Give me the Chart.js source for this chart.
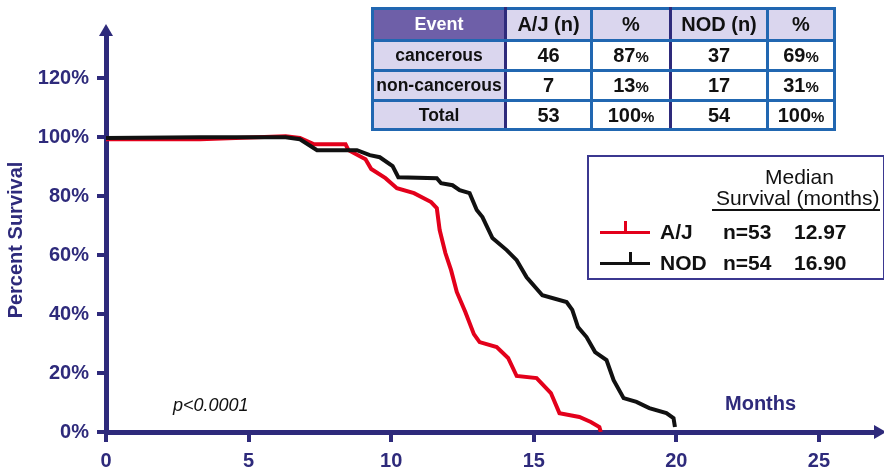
<!DOCTYPE html>
<html lang="en">
<head>
<meta charset="UTF-8">
<title>Survival</title>
<script src="https://cdn.jsdelivr.net/npm/chart.js"></script>
<style>
  body { margin: 0; background: #fff; font-family: "Liberation Sans", Arial, sans-serif; }
  #wrap { position: relative; width: 884px; height: 469px; overflow: hidden; }
  #chart { position: absolute; left: 0; top: 0; }
  .abs { position: absolute; white-space: nowrap; }
  #events { position: absolute; left: 371px; top: 7px; border-collapse: collapse; table-layout: fixed;
            font-weight: bold; font-size: 20px; color: #111; border: 3px solid #2e2a7b; }
  #events td { padding: 0; text-align: center; border: 3px solid #2167b1; background: #fff; }
  #events td.lab { background: #dad6ee; }
  #events td.first { font-size: 17.5px; }
  #events td.ev { background: #6e5fa8; color: #fff; font-size: 18px; }
  #events td.nv { border-right-color: #2e2a7b; }
  #events small { font-size: 15px; }
  #legendBox { position: absolute; left: 587px; top: 155px; width: 294px; height: 121px; border: 2px solid #3b3890; }
  .lg { font-size: 21px; font-weight: bold; color: #111; transform: translateY(-50%); }
</style>
</head>
<body>
<div id="wrap">
  <canvas id="chart" width="884" height="469"></canvas>
  <table id="events"></table>
  <div id="legendBox"></div>
  <div class="abs" style="left:725px;top:392px;font-size:20px;font-weight:bold;color:#2e2a7b">Months</div>
  <div class="abs" style="left:173px;top:395px;font-size:18px;font-style:italic;color:#111">p&lt;0.0001</div>
</div>
<script>
const NAVY = '#2e2a7b'

// Kaplan-Meier curves (months, percent surviving)
const ajMonths = [0, 3.3, 6.3, 6.8, 7.3, 8.4, 8.5, 9.1, 9.3, 9.8, 10.2, 10.8, 11.4, 11.6, 11.7, 11.9, 12.1, 12.3, 12.6, 12.9, 13.1, 13.7, 14.1, 14.4, 15.1, 15.6, 15.9, 16.6, 17.0, 17.3, 17.35]
const ajSurvival = [99.3, 99.3, 100.3, 99.7, 97.6, 97.6, 95.6, 92.5, 89.2, 86.1, 82.7, 81.0, 78.0, 75.9, 68.5, 60.7, 54.9, 47.5, 40.7, 33.2, 30.5, 28.8, 25.1, 19.0, 18.3, 13.2, 6.4, 5.1, 3.4, 1.7, 0]
const nodMonths = [0, 3.3, 6.3, 6.8, 7.4, 8.8, 9.25, 9.6, 10.05, 10.25, 11.6, 11.75, 12.15, 12.4, 12.75, 13.0, 13.2, 13.55, 14.05, 14.4, 14.75, 15.3, 16.15, 16.35, 16.55, 16.85, 17.15, 17.55, 17.8, 18.15, 18.6, 19.05, 19.65, 19.9, 19.95]
const nodSurvival = [99.7, 100, 100, 99.3, 95.6, 95.6, 93.9, 93.2, 90.2, 86.4, 86.1, 84.4, 83.7, 82.0, 81.0, 75.3, 72.9, 65.8, 61.7, 58.3, 52.5, 46.4, 44.1, 41.4, 35.6, 32.2, 27.1, 24.4, 17.6, 11.5, 10.2, 8.1, 6.4, 4.7, 1.7]

const xTicks = [0, 5, 10, 15, 20, 25]
const yTicks = [0, 20, 40, 60, 80, 100, 120]

// event table
const tableHeader = ['Event', 'A/J (n)', '%', 'NOD (n)', '%']
const eventNames = ['cancerous', 'non-cancerous', 'Total']
const ajCounts = [46, 7, 53]
const ajPercent = [87, 13, 100]
const nodCounts = [37, 17, 54]
const nodPercent = [69, 31, 100]

// legend
const groupNames = ['A/J', 'NOD']
const groupN = [53, 54]
const groupMedian = ['12.97', '16.90']
const groupColors = ['#e3001b', '#111111']

const table = document.getElementById('events')
const colW = [133, 86, 79, 97, 67]
const rowH = [32, 30, 30, 29]
let html = '<colgroup>' + colW.map(w => `<col style="width:${w}px">`).join('') + '</colgroup>'
html += `<tr style="height:${rowH[0]}px">` + tableHeader.map((h, i) =>
  `<td class="${i === 0 ? 'ev nv' : 'lab' + (i === 2 ? ' nv' : '')}">${h}</td>`).join('') + '</tr>'
eventNames.forEach((name, r) => {
  html += `<tr style="height:${rowH[r + 1]}px">` +
    `<td class="lab nv first">${name}</td>` +
    `<td>${ajCounts[r]}</td>` +
    `<td class="nv">${ajPercent[r]}<small>%</small></td>` +
    `<td>${nodCounts[r]}</td>` +
    `<td>${nodPercent[r]}<small>%</small></td></tr>`
})
table.innerHTML = html

const wrap = document.getElementById('wrap')
function addText(txt, left, top, style) {
  const d = document.createElement('div')
  d.className = 'abs'
  d.textContent = txt
  d.style.left = left + 'px'
  d.style.top = top + 'px'
  Object.assign(d.style, style || {})
  wrap.appendChild(d)
  return d
}
addText('Median', 765, 165, { fontSize: '21px', color: '#111' })
addText('Survival (months)', 716, 186, { fontSize: '21px', color: '#111' })
addText('', 712, 209, { width: '168px', height: '2px', background: '#111' })
groupNames.forEach((g, i) => {
  const y = [232, 263][i]
  addText('', 600, y - 1.5, { width: '50px', height: '3px', background: groupColors[i] })
  addText('', [624, 629][i], y - 11, { width: '3px', height: '10px', background: groupColors[i] })
  addText(g, 660, y).classList.add('lg')
  addText('n=' + groupN[i], 723, y).classList.add('lg')
  addText(groupMedian[i], 794, y).classList.add('lg')
})

const axisDecor = {
  id: 'axisDecor',
  afterDraw(chart) {
    const { ctx, chartArea, scales } = chart
    const x0 = scales.x.getPixelForValue(0)
    const y0 = scales.y.getPixelForValue(0)
    ctx.save()
    ctx.fillStyle = NAVY
    ctx.beginPath()
    ctx.moveTo(x0, chartArea.top - 10)
    ctx.lineTo(x0 - 7, chartArea.top + 2)
    ctx.lineTo(x0 + 7, chartArea.top + 2)
    ctx.closePath()
    ctx.fill()
    ctx.beginPath()
    ctx.moveTo(chartArea.right + 10, y0)
    ctx.lineTo(chartArea.right - 2, y0 - 7)
    ctx.lineTo(chartArea.right - 2, y0 + 7)
    ctx.closePath()
    ctx.fill()
    ctx.translate(16, 240)
    ctx.rotate(-Math.PI / 2)
    ctx.font = 'bold 20px "Liberation Sans", Arial, sans-serif'
    ctx.textAlign = 'center'
    ctx.textBaseline = 'middle'
    ctx.fillText('Percent Survival', 0, 0)
    ctx.restore()
  }
}

const tickFont = { family: '"Liberation Sans", Arial, sans-serif', size: 20, weight: 'bold' }

new Chart(document.getElementById('chart'), {
  type: 'line',
  data: {
    datasets: [
      {
        label: 'NOD',
        data: nodMonths.map((m, i) => ({ x: m, y: nodSurvival[i] })),
        borderColor: groupColors[1],
        borderWidth: 4,
        pointRadius: 0,
        tension: 0
      },
      {
        label: 'A/J',
        data: ajMonths.map((m, i) => ({ x: m, y: ajSurvival[i] })),
        borderColor: groupColors[0],
        borderWidth: 4,
        pointRadius: 0,
        tension: 0
      }
    ]
  },
  options: {
    responsive: false,
    animation: false,
    layout: { padding: { top: 34, right: 8, left: 0, bottom: 0 } },
    plugins: { legend: { display: false }, tooltip: { enabled: false } },
    scales: {
      x: {
        type: 'linear',
        min: 0,
        max: 27,
        afterFit: s => { s.height = 37 },
        afterBuildTicks: s => { s.ticks = xTicks.map(v => ({ value: v })) },
        border: { display: true, color: NAVY, width: 5 },
        grid: { drawOnChartArea: false, color: NAVY, lineWidth: 4, tickLength: 10 },
        ticks: { color: NAVY, font: tickFont, padding: 7, maxRotation: 0 }
      },
      y: {
        min: 0,
        max: 135,
        afterFit: s => { s.width = 106 },
        afterBuildTicks: s => { s.ticks = yTicks.map(v => ({ value: v })) },
        border: { display: true, color: NAVY, width: 5 },
        grid: { drawOnChartArea: false, color: NAVY, lineWidth: 4, tickLength: 9 },
        ticks: { color: NAVY, font: tickFont, padding: 8, callback: v => v + '%' }
      }
    }
  },
  plugins: [axisDecor]
})
</script>
</body>
</html>
